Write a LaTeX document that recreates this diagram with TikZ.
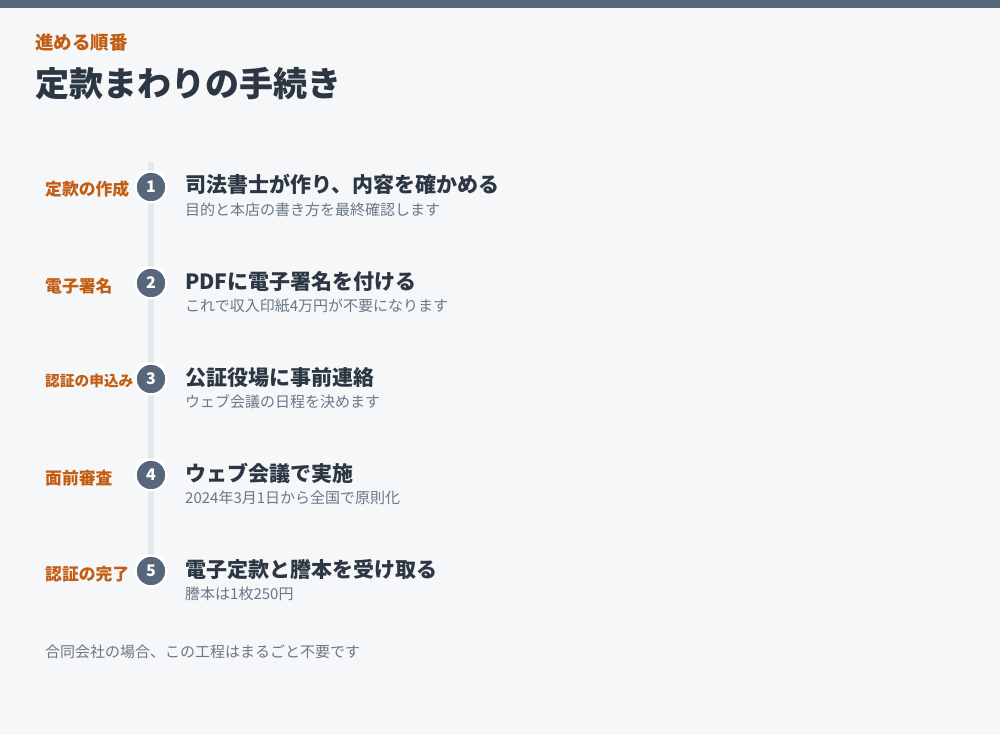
\documentclass[tikz,border=0pt]{standalone}
\usepackage{fontspec}
\setmainfont{Noto Sans CJK JP}
\usetikzlibrary{positioning}
\definecolor{bgpaper}{HTML}{F5F7F9}
\definecolor{barslate}{HTML}{56677C}
\definecolor{inkdark}{HTML}{2C3743}
\definecolor{inkgray}{HTML}{6B7787}
\definecolor{accorange}{HTML}{C25D12}
\definecolor{railgray}{HTML}{E4E9EE}
\tikzset{
    stepdot/.style = {circle, line width=2.5pt, draw=white, fill=barslate, minimum size=31pt, inner sep=0pt, font=\bfseries\fontsize{16}{16}\selectfont, text=white},
    steptag/.style = {anchor=base west, inner sep=0pt, font=\bfseries\fontsize{16.8}{16.8}\selectfont, text=accorange},
    steptagsm/.style = {anchor=base west, inner sep=0pt, font=\bfseries\fontsize{14.7}{14.7}\selectfont, text=accorange},
    stephead/.style = {anchor=base west, inner sep=0pt, font=\bfseries\fontsize{21}{21}\selectfont, text=inkdark},
    stepnote/.style = {anchor=base west, inner sep=0pt, font=\fontsize{15}{15}\selectfont, text=inkgray},
    railn/.style = {-, line width=6pt, railgray}
}
\begin{document}
\begin{tikzpicture}[x=1pt,y=-1pt]
\fill[bgpaper] (0,0) rectangle (1000,735);
\fill[barslate] (0,0) rectangle (1000,8);
%
\node[anchor=base west, inner sep=0pt, font=\bfseries\fontsize{18.5}{18.5}\selectfont, text=accorange] at (35,50) (kicker) {進める順番};
\node[anchor=base west, inner sep=0pt, font=\bfseries\fontsize{34}{34}\selectfont, text=inkdark] at (35,97) (title) {定款まわりの手続き};
%
\coordinate (railtop) at (151,162);
\coordinate (railbot) at (151,560);
\draw[railn] (railtop) -- (railbot);
%
\node[stepdot] at (151,187) (n1) {1};
\node[stepdot] at (151,283) (n2) {2};
\node[stepdot] at (151,379) (n3) {3};
\node[stepdot] at (151,475) (n4) {4};
\node[stepdot] at (151,571) (n5) {5};
%
\node[steptag] at (45,196) (t1) {定款の作成};
\node[steptag] at (45,292) (t2) {電子署名};
\node[steptagsm] at (45,386) (t3) {認証の申込み};
\node[steptag] at (45,484) (t4) {面前審査};
\node[steptag] at (45,580) (t5) {認証の完了};
%
\node[stephead] at (185,193) (h1) {司法書士が作り、内容を確かめる};
\node[stephead] at (185,289) (h2) {PDFに電子署名を付ける};
\node[stephead] at (185,385) (h3) {公証役場に事前連絡};
\node[stephead] at (185,481) (h4) {ウェブ会議で実施};
\node[stephead] at (185,577) (h5) {電子定款と謄本を受け取る};
%
\node[stepnote] at (185,215) (s1) {目的と本店の書き方を最終確認します};
\node[stepnote] at (185,311) (s2) {これで収入印紙4万円が不要になります};
\node[stepnote] at (185,407) (s3) {ウェブ会議の日程を決めます};
\node[stepnote] at (185,503) (s4) {2024年3月1日から全国で原則化};
\node[stepnote] at (185,599) (s5) {謄本は1枚250円};
%
\node[stepnote] at (45,657) (foot) {合同会社の場合、この工程はまるごと不要です};

\path[use as bounding box] (0,0) rectangle (1000,735);
\end{tikzpicture}
\end{document}
